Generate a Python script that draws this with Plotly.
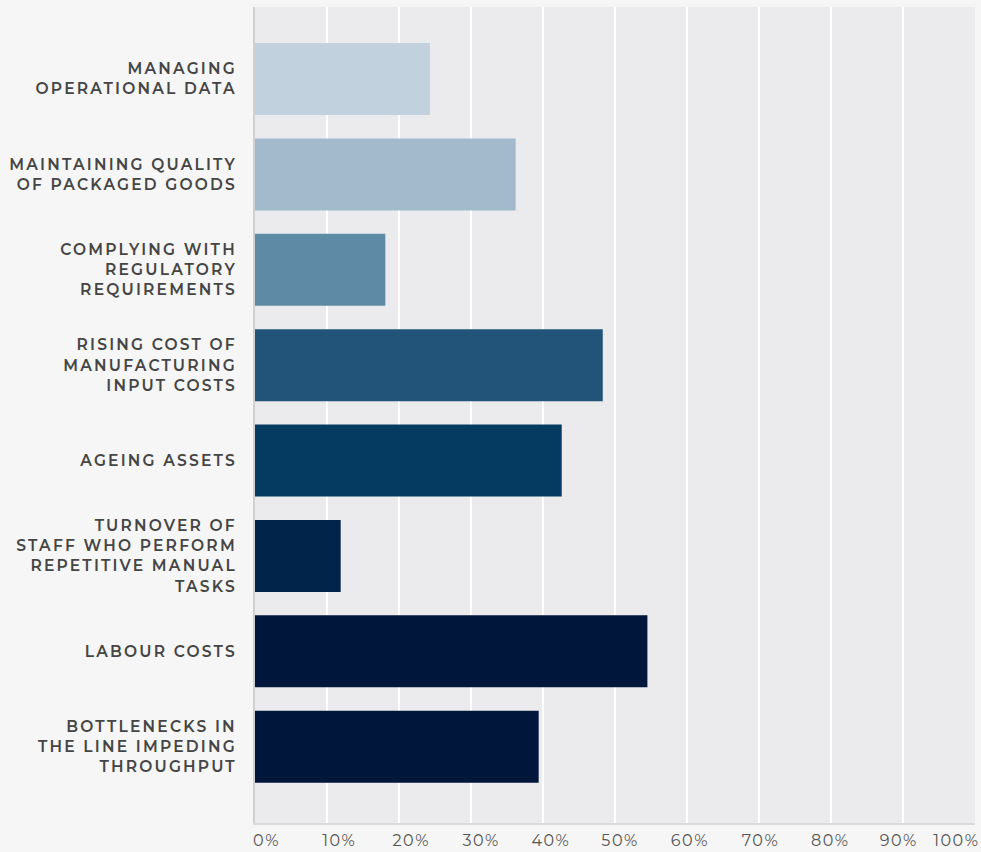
import plotly.graph_objects as go

categories = [
    "MANAGING<br>OPERATIONAL DATA",
    "MAINTAINING QUALITY<br>OF PACKAGED GOODS",
    "COMPLYING WITH<br>REGULATORY<br>REQUIREMENTS",
    "RISING COST OF<br>MANUFACTURING<br>INPUT COSTS",
    "AGEING ASSETS",
    "TURNOVER OF<br>STAFF WHO PERFORM<br>REPETITIVE MANUAL<br>TASKS",
    "LABOUR COSTS",
    "BOTTLENECKS IN<br>THE LINE IMPEDING<br>THROUGHPUT",
]
values = [24.3, 36.2, 18.1, 48.3, 42.6, 11.9, 54.5, 39.4]
bar_colors = ["#c1d2de", "#a3b9cc", "#5e8aa5", "#215478",
              "#053a61", "#00244a", "#00163a", "#00163a"]
tick_values = [0, 10, 20, 30, 40, 50, 60, 70, 80, 90, 100]
tick_labels = [f"{v}%" for v in tick_values]

# Percent labels are spread evenly along the bottom edge, so they sit on
# their own overlay axis rather than directly under each gridline.
label_slots = [1.6, 11.7, 21.7, 31.4, 41.1, 50.7, 60.4, 70.2, 79.9, 89.4, 97.4]

FONT = "Montserrat, 'DejaVu Sans', sans-serif"
label_font = dict(family=FONT, size=15.5, color="#454545", weight=600)

fig = go.Figure()
fig.add_trace(
    go.Bar(
        x=values,
        y=categories,
        orientation="h",
        marker=dict(color=bar_colors, line=dict(width=0)),
        width=0.755,
        hoverinfo="skip",
    )
)
# empty trace that anchors the label axis
fig.add_trace(go.Scatter(x=[], y=[], xaxis="x2", yaxis="y", showlegend=False, hoverinfo="skip"))

fig.update_layout(
    width=981,
    height=852,
    margin=dict(l=255, r=6, t=7, b=29),
    paper_bgcolor="#f6f6f6",
    plot_bgcolor="#ebebed",
    showlegend=False,
    xaxis=dict(
        range=[0, 100],
        tickvals=tick_values,
        showticklabels=False,
        showgrid=True,
        gridcolor="#ffffff",
        gridwidth=1.5,
        zeroline=False,
        showline=True,
        linecolor="#dadada",
        linewidth=2,
        ticks="",
        automargin=False,
        fixedrange=True,
    ),
    xaxis2=dict(
        overlaying="x",
        side="bottom",
        anchor="y",
        range=[0, 100],
        tickvals=label_slots,
        ticktext=tick_labels,
        showgrid=False,
        zeroline=False,
        showline=False,
        ticks="",
        ticklabelstandoff=6,
        ticklabeloverflow="allow",
        tickfont=dict(family=FONT, size=16, color="#555555", weight=400),
        automargin=False,
        fixedrange=True,
    ),
    yaxis=dict(
        type="category",
        range=[7.8, -0.755],
        showgrid=False,
        zeroline=False,
        showline=True,
        linecolor="#d0d0d0",
        linewidth=2,
        ticks="",
        ticklabelstandoff=13,
        tickfont=label_font,
        automargin=False,
        fixedrange=True,
    ),
)

# Widen the tracking of the axis labels (SVG letter-spacing).
spacing_js = """
var gd = document.getElementById('{plot_id}');
function track() {
  gd.querySelectorAll('.ytick text').forEach(function (t) { t.style.letterSpacing = '2.2px'; });
  gd.querySelectorAll('.x2tick text').forEach(function (t) { t.style.letterSpacing = '1.5px'; });
}
track();
gd.on('plotly_afterplot', track);
"""

fig.write_html("out.html", config={"displayModeBar": False}, post_script=spacing_js)
